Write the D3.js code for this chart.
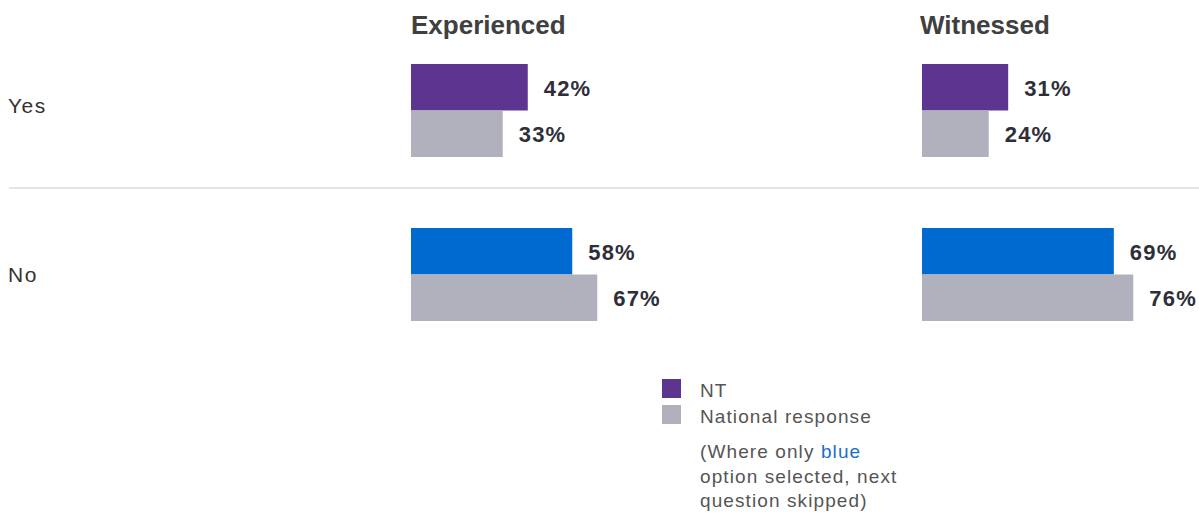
<!DOCTYPE html>
<html>
<head>
<meta charset="utf-8">
<script src="https://cdn.jsdelivr.net/npm/d3@7"></script>
<style>
  body { margin: 0; background: #fff; }
  svg { font-family: "Liberation Sans", Arial, sans-serif; display: block; }
</style>
</head>
<body>
<div class="vis"></div>
<script>
const answers = ["Yes", "No"];
const panels = ["Experienced", "Witnessed"];
const series = ["NT", "National response"];
// values[panel][answer] = [NT, National]
const experienced = [[42, 33], [58, 67]];
const witnessed = [[31, 24], [69, 76]];
const panelValues = [experienced, witnessed];

const width = 1199, height = 514;
const svg = d3.select(".vis").append("svg")
  .attr("width", width).attr("height", height);

const purple = "#5b3590", grey = "#b1b1be", blue = "#006ad0";

// horizontal scale: percent -> px
const x = d3.scaleLinear().domain([0, 100]).range([0, 278]);
const panelX = d3.scaleOrdinal().domain(panels).range([411, 922]);
const rowY = d3.scaleOrdinal().domain(answers).range([64, 228]);
const labelY = d3.scaleOrdinal().domain(answers).range([113, 282]);
const barY = d3.scaleBand().domain(series).range([0, 93]).padding(0);

// headers
svg.append("g").selectAll("text")
  .data(panels)
  .join("text")
  .attr("x", (d) => panelX(d) - (d === "Witnessed" ? 2 : 0))
  .attr("y", 34)
  .attr("font-size", 26)
  .attr("font-weight", "bold")
  .attr("fill", "#404040")
  .text((d) => d);

// row labels
svg.append("g").selectAll("text")
  .data(answers)
  .join("text")
  .attr("x", 8)
  .attr("y", (d) => labelY(d))
  .attr("font-size", 21)
  .attr("letter-spacing", 1.5)
  .attr("fill", "#333")
  .text((d) => d);

// separator
svg.append("line")
  .attr("x1", 9).attr("x2", width)
  .attr("y1", 188).attr("y2", 188)
  .attr("stroke", "#dcdcdc").attr("stroke-width", 1.5);

// bars
const bars = [];
panels.forEach((p, pi) => {
  answers.forEach((a, ai) => {
    series.forEach((s, si) => {
      bars.push({ panel: p, answer: a, series: s, value: panelValues[pi][ai][si] });
    });
  });
});

const fillOf = (d) => d.series === "NT" ? (d.answer === "No" ? blue : purple) : grey;

svg.append("g").selectAll("rect")
  .data(bars)
  .join("rect")
  .attr("x", (d) => panelX(d.panel))
  .attr("y", (d) => rowY(d.answer) + barY(d.series))
  .attr("width", (d) => x(d.value))
  .attr("height", barY.bandwidth())
  .attr("fill", fillOf);

svg.append("g").selectAll("text")
  .data(bars)
  .join("text")
  .attr("x", (d) => panelX(d.panel) + x(d.value) + 16)
  .attr("y", (d) => rowY(d.answer) + barY(d.series) + barY.bandwidth() / 2 + 1)
  .attr("dy", "0.35em")
  .attr("font-size", 22)
  .attr("letter-spacing", 1.2)
  .attr("font-weight", "bold")
  .attr("fill", "#2e2e38")
  .text((d) => d.value + "%");

// legend
const legend = svg.append("g");
legend.selectAll("rect")
  .data(series)
  .join("rect")
  .attr("x", 662)
  .attr("y", (d, i) => 379 + i * 26)
  .attr("width", 19)
  .attr("height", 19)
  .attr("fill", (d) => d === "NT" ? purple : grey);
legend.selectAll("text")
  .data(series)
  .join("text")
  .attr("x", 700)
  .attr("y", (d, i) => 397 + i * 26)
  .attr("font-size", 19)
  .attr("letter-spacing", 1.1)
  .attr("fill", "#555")
  .text((d) => d);

const note = legend.append("text")
  .attr("font-size", 19)
  .attr("letter-spacing", 1.1)
  .attr("fill", "#555");
const l1 = note.append("tspan").attr("x", 700).attr("y", 458);
l1.append("tspan").text("(Where only ");
l1.append("tspan").attr("fill", "#1a6fd0").text("blue");
note.append("tspan").attr("x", 700).attr("y", 483).text("option selected, next");
note.append("tspan").attr("x", 700).attr("y", 507).text("question skipped)");
</script>
</body>
</html>
